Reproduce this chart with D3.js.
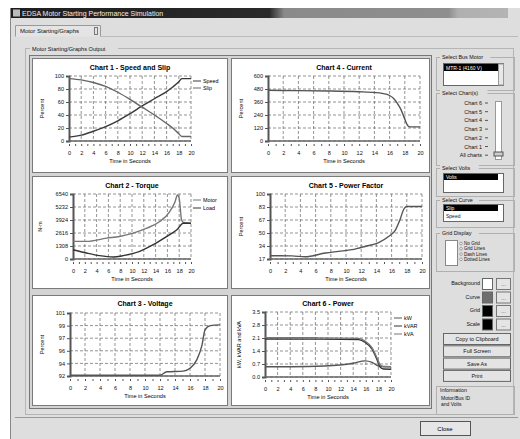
<!DOCTYPE html>
<html><head><meta charset="utf-8">
<script src="https://cdn.jsdelivr.net/npm/d3@7"></script>
<style>body{margin:0;background:#fff}svg{display:block;font-family:"Liberation Sans",Arial,sans-serif}</style>
</head><body><svg id="c" width="520" height="439"></svg>
<script>
// ---------- data ----------
const timeTicks = [0,2,4,6,8,10,12,14,16,18,20];

// Chart 1 - Speed and Slip (percent)
const c1Ticks = [0,20,40,60,80,100];
const c1Labels = ["0","20","40","60","80","100"];
const speedTime = [0,2,4,6,8,10,12,14,16,17,18,18.5,20];
const speedVal  = [6,9,15,22,31,42,54,65,76,83,91,96,96];
const slipTime  = [0,2,4,6,8,10,12,14,16,17,18,18.5,20];
const slipVal   = [96,94,90,84,75,64,52,40,27,20,11,7,7];

// Chart 4 - Current (percent)
const c4Ticks = [0,120,240,360,480,600];
const c4Labels = ["0","120","240","360","480","600"];
const currentTime = [0,4,8,12,14,15,16,16.5,17,17.5,18,18.4,18.7,20];
const currentVal  = [468,465,462,455,448,440,420,395,350,290,200,140,130,130];

// Chart 2 - Torque (N-m)
const c2Ticks = [0,1308,2616,3924,5232,6540];
const c2Labels = ["0","1308","2616","3924","5232","6540"];
const motorTime = [0,2.3,5.7,7.9,10.2,12.5,14.7,16.4,17.3,17.7,18,18.4,18.7,20];
const motorVal  = [1770,1770,2100,2270,2600,3100,3770,4770,5770,6440,6100,3940,3670,3600];
const loadTime  = [0,2.3,4.5,6.8,8.5,11.3,13.6,15.9,17.6,18.7,20];
const loadVal   = [934,600,334,200,334,767,1435,2270,2936,3600,3600];

// Chart 5 - Power Factor (percent)
const c5Ticks = [17,33.6,50.2,66.8,83.4,100];
const c5Labels = ["17","34","50","67","83","100"];
const pfTime = [0,2.9,4.6,7.3,9,10.8,12.5,14.3,15.6,16.5,17.1,17.6,18,20];
const pfVal  = [21.2,21,19.8,24.6,26.7,28.9,33,38,45.7,54,67,80.5,84,84];

// Chart 3 - Voltage (percent)
const c3Ticks = [92,93.8,95.6,97.4,99.2,101];
const c3Labels = ["92","94","96","97","99","101"];
const voltTime = [0,6,12,12.9,15.1,16,16.9,17.6,18,18.7,20];
const voltVal  = [92.1,92.1,92.1,92.6,92.7,93.1,94.3,96.4,98.6,99.2,99.3];

// Chart 6 - Power
const c6Ticks = [0,0.7,1.4,2.1,2.8,3.5];
const c6Labels = ["0.0","0.7","1.4","2.1","2.8","3.5"];
const kwTime   = [0,4.2,9.5,14,15.9,17,18,20];
const kwVal    = [0.55,0.55,0.59,0.74,0.87,0.79,0.59,0.55];
const kvarTime = [0,8,14.9,15.9,17,17.8,18.3,18.8,20];
const kvarVal  = [2.05,2.04,2.01,1.86,1.5,0.92,0.52,0.43,0.42];
const kvaTime  = [0,8,14.9,15.9,17,17.8,18.3,18.8,20];
const kvaVal   = [2.12,2.11,2.08,1.93,1.57,1.01,0.64,0.55,0.55];

const chartChecks = ["Chart 6","Chart 5","Chart 4","Chart 3","Chart 2","Chart 1","All charts"];
const gridOptions = ["No Grid","Grid Lines","Dash Lines","Dotted Lines"];
const colorRows = ["Background","Curve","Grid","Scale"];
const colorFills = ["#ffffff","#6e6e6e","#000000","#000000"];
const buttons = ["Copy to Clipboard","Full Screen","Save As","Print"];

// ---------- drawing ----------
const svg = d3.select("#c");
const zip = (a,b)=>a.map((v,i)=>[v,b[i]]);

// window
svg.append("rect").attr("x",10).attr("y",8).attr("width",510).attr("height",431).attr("fill","#dedede");
svg.append("line").attr("x1",10.5).attr("x2",10.5).attr("y1",8).attr("y2",439).attr("stroke","#888");
const grad = svg.append("defs").append("linearGradient").attr("id","tb");
grad.append("stop").attr("offset","0").attr("stop-color","#1e1e1e");
grad.append("stop").attr("offset","0.52").attr("stop-color","#2a2a2a");
grad.append("stop").attr("offset","0.55").attr("stop-color","#8a8a8a");
grad.append("stop").attr("offset","0.88").attr("stop-color","#8e8e8e");
grad.append("stop").attr("offset","0.9").attr("stop-color","#b0b0b0");
grad.append("stop").attr("offset","1").attr("stop-color","#b4b4b4");
svg.append("rect").attr("x",11).attr("y",8).attr("width",497).attr("height",10).attr("fill","url(#tb)");
svg.append("rect").attr("x",13).attr("y",9.5).attr("width",7).attr("height",7).attr("fill","#bbb");
svg.append("text").attr("x",22).attr("y",16).attr("font-size",7).attr("fill","#eee")
  .text("EDSA Motor Starting Performance Simulation");

// tab
svg.append("path").attr("d","M15.5,36.5 V25.5 H100.5 V36.5").attr("fill","#e4e4e4").attr("stroke","#999");
svg.append("text").attr("x",20).attr("y",33).attr("font-size",6).attr("fill","#111").text("Motor Starting/Graphs");
svg.append("rect").attr("x",94.5).attr("y",27.5).attr("width",3).attr("height",7).attr("fill","none").attr("stroke","#777");
svg.append("line").attr("x1",100).attr("x2",518).attr("y1",36.5).attr("y2",36.5).attr("stroke","#bbb");
// group box
svg.append("rect").attr("x",25.5).attr("y",48.5).attr("width",488).attr("height",366).attr("fill","none").attr("stroke","#b5b5b5");
svg.append("rect").attr("x",30).attr("y",45).attr("width",88).attr("height",7).attr("fill","#dedede");
svg.append("text").attr("x",32).attr("y",51).attr("font-size",5.6).attr("fill","#111").text("Motor Starting/Graphs Output");
// chart container
svg.append("rect").attr("x",29.5).attr("y",55.5).attr("width",402).attr("height",353).attr("fill","#d4d4d4").attr("stroke","#777");
// bottom line + close
svg.append("line").attr("x1",15).attr("x2",518).attr("y1",417.5).attr("y2",417.5).attr("stroke","#999");
svg.append("rect").attr("x",420.5).attr("y",421.5).attr("width",50).attr("height",14).attr("fill","#e6e6e6").attr("stroke","#555");
svg.append("text").attr("x",445).attr("y",431).attr("text-anchor","middle").attr("font-size",6).text("Close");

function drawChart(o){
  const g = svg.append("g");
  g.append("rect").attr("x",o.panel[0]+.5).attr("y",o.panel[1]+.5).attr("width",o.panel[2]).attr("height",o.panel[3])
    .attr("fill","#fff").attr("stroke","#7a7a7a");
  const x = d3.scaleLinear().domain([0,20]).range([o.L,o.R]);
  const y = d3.scaleLinear().domain([o.ticks[0],o.ticks[o.ticks.length-1]]).range([o.B,o.T]);
  g.append("text").attr("x",(o.L+o.R)/2).attr("y",o.titleY).attr("text-anchor","middle")
    .attr("font-size",7).attr("font-weight","bold").text(o.title);
  // grid
  g.selectAll(".vg").data(timeTicks.slice(1)).join("line")
    .attr("x1",d=>x(d)).attr("x2",d=>x(d)).attr("y1",o.T).attr("y2",o.B)
    .attr("stroke","#666").attr("stroke-width",0.7).attr("stroke-dasharray","3,2");
  g.selectAll(".hg").data(o.ticks).join("line")
    .attr("x1",o.L).attr("x2",o.R).attr("y1",d=>y(d)).attr("y2",d=>y(d))
    .attr("stroke","#666").attr("stroke-width",0.7).attr("stroke-dasharray","3,2");
  // y axis
  const ya = g.append("g").attr("transform",`translate(${o.L},0)`)
    .call(d3.axisLeft(y).tickValues(o.ticks).tickFormat((d,i)=>o.labels[i]).tickSize(3).tickPadding(2));
  ya.select(".domain").attr("stroke","#555").attr("stroke-width",2);
  ya.selectAll("text").attr("font-size",5.6).attr("fill","#111").attr("font-family","Liberation Sans, Arial");
  ya.selectAll(".tick line").attr("stroke","#555");
  // x axis
  const xa = g.append("g").attr("transform",`translate(0,${o.B+3})`)
    .call(d3.axisBottom(x).tickValues(d3.range(0,21)).tickFormat(d=>d%2?"":d).tickSize(2).tickPadding(5));
  xa.select(".domain").attr("stroke","none");
  xa.selectAll("text").attr("font-size",5.6).attr("fill","#111").attr("font-family","Liberation Sans, Arial");
  xa.selectAll(".tick line").attr("stroke","#555");
  g.append("line").attr("x1",o.L).attr("x2",o.R).attr("y1",o.B).attr("y2",o.B).attr("stroke","#666").attr("stroke-width",1.5);
  g.append("text").attr("x",(o.L+o.R)/2).attr("y",o.B+22).attr("text-anchor","middle").attr("font-size",5.6).text("Time in Seconds");
  g.append("text").attr("transform",`translate(${o.yTitleX},${(o.T+o.B)/2}) rotate(-90)`).attr("text-anchor","middle")
    .attr("font-size",5.6).text(o.yTitle);
  // series
  const line = d3.line().x(d=>x(d[0])).y(d=>y(d[1])).curve(d3.curveMonotoneX);
  o.series.forEach(s=>{
    g.append("path").datum(zip(s.t,s.v)).attr("d",line).attr("fill","none")
      .attr("stroke",s.c||"#444").attr("stroke-width",1.4);
  });
  // legend
  if(o.legend){
    o.series.forEach((s,i)=>{
      const ly = o.legend[1]+i*o.legend[2];
      g.append("line").attr("x1",o.legend[0]).attr("x2",o.legend[0]+8).attr("y1",ly).attr("y2",ly).attr("stroke",s.c||"#444").attr("stroke-width",1);
      g.append("text").attr("x",o.legend[0]+10).attr("y",ly+2).attr("font-size",5.4).text(s.name);
    });
  }
}

drawChart({panel:[32,58,195,114],L:69,R:191,T:76,B:141,titleY:70,title:"Chart 1 - Speed and Slip",
  ticks:c1Ticks,labels:c1Labels,yTitle:"Percent",yTitleX:44,legend:[193,81,7],
  series:[{name:"Speed",t:speedTime,v:speedVal,c:"#3a3a3a"},{name:"Slip",t:slipTime,v:slipVal,c:"#666"}]});
drawChart({panel:[231,58,198,114],L:268,R:420,T:76,B:141,titleY:70,title:"Chart 4 - Current",
  ticks:c4Ticks,labels:c4Labels,yTitle:"Percent",yTitleX:243,
  series:[{name:"Current",t:currentTime,v:currentVal,c:"#555"}]});
drawChart({panel:[32,176,195,112],L:73,R:191,T:194,B:259,titleY:188,title:"Chart 2 - Torque",
  ticks:c2Ticks,labels:c2Labels,yTitle:"N-m",yTitleX:42,legend:[193,200,8],
  series:[{name:"Motor",t:motorTime,v:motorVal,c:"#777"},{name:"Load",t:loadTime,v:loadVal,c:"#333"}]});
drawChart({panel:[231,176,198,112],L:270,R:422,T:194,B:259,titleY:188,title:"Chart 5 - Power Factor",
  ticks:c5Ticks,labels:c5Labels,yTitle:"Percent",yTitleX:243,
  series:[{name:"PF",t:pfTime,v:pfVal,c:"#555"}]});
drawChart({panel:[32,295,195,110],L:70,R:220,T:313,B:376,titleY:306,title:"Chart 3 - Voltage",
  ticks:c3Ticks,labels:c3Labels,yTitle:"Percent",yTitleX:44,
  series:[{name:"Voltage",t:voltTime,v:voltVal,c:"#555"}]});
drawChart({panel:[231,295,198,110],L:265,R:391,T:312,B:377,titleY:306,title:"Chart 6 - Power",
  ticks:c6Ticks,labels:c6Labels,yTitle:"kW, kVAR and kVA",yTitleX:241,legend:[394,318,8],
  series:[{name:"kW",t:kwTime,v:kwVal,c:"#555"},{name:"kVAR",t:kvarTime,v:kvarVal,c:"#333"},{name:"kVA",t:kvaTime,v:kvaVal,c:"#777"}]});

// ---------- right panel ----------
const rp = svg.append("g").attr("font-size",5.4).attr("fill","#111");
function frame(x,y,w,h,label){
  rp.append("rect").attr("x",x+.5).attr("y",y+.5).attr("width",w).attr("height",h).attr("fill","none").attr("stroke","#b0b0b0");
  if(label){
    rp.append("rect").attr("x",x+4).attr("y",y-3).attr("width",label.length*2.9+4).attr("height",6).attr("fill","#dedede");
    rp.append("text").attr("x",x+6).attr("y",y+2).text(label);
  }
}
frame(436,57,78,33,"Select Bus Motor");
rp.append("rect").attr("x",443.5).attr("y",63.5).attr("width",60).attr("height",22).attr("fill","#fff").attr("stroke","#666");
rp.append("rect").attr("x",444).attr("y",64).attr("width",54).attr("height",7).attr("fill","#000");
rp.append("text").attr("x",446).attr("y",69.5).attr("fill","#fff").attr("font-size",5).text("MTR-1 (4160 V)");
rp.append("rect").attr("x",498.5).attr("y",64).attr("width",5).attr("height",21).attr("fill","#e8e8e8").attr("stroke","#999");

frame(436,93,78,72,"Select Chart(s)");
chartChecks.forEach((c,i)=>{
  const yy = 105+i*8.7;
  rp.append("text").attr("x",482).attr("y",yy).attr("text-anchor","end").text(c);
  rp.append("line").attr("x1",485).attr("x2",488).attr("y1",yy-2).attr("y2",yy-2).attr("stroke","#555");
});
rp.append("rect").attr("x",495.5).attr("y",101.5).attr("width",6).attr("height",58).attr("fill","#fff").attr("stroke","#999");
rp.append("rect").attr("x",494).attr("y",152).attr("width",9).attr("height",4).attr("fill","#ccc").attr("stroke","#555");

frame(436,168,78,28,"Select Volts");
rp.append("rect").attr("x",443.5).attr("y",173.5).attr("width",60).attr("height",19).attr("fill","#fff").attr("stroke","#666");
rp.append("rect").attr("x",444).attr("y",174).attr("width",54).attr("height",6).attr("fill","#000");
rp.append("text").attr("x",446).attr("y",179).attr("fill","#fff").attr("font-size",5).text("Volts");

frame(436,200,78,27,"Select Curve");
rp.append("rect").attr("x",443.5).attr("y",204.5).attr("width",60).attr("height",17).attr("fill","#fff").attr("stroke","#666");
rp.append("rect").attr("x",444).attr("y",205).attr("width",54).attr("height",6).attr("fill","#000");
rp.append("text").attr("x",446).attr("y",210).attr("fill","#fff").attr("font-size",5).text("Slip");
rp.append("text").attr("x",446).attr("y",217.5).attr("font-size",5).text("Speed");

frame(436,233,78,38,"Grid Display");
rp.append("rect").attr("x",445.5).attr("y",240.5).attr("width",12).attr("height",25).attr("fill","#fff").attr("stroke","#888");
gridOptions.forEach((t,i)=>{
  const yy = 245+i*5.3;
  rp.append("circle").attr("cx",461).attr("cy",yy-1.5).attr("r",1.3).attr("fill","#fff").attr("stroke","#555").attr("stroke-width",0.5);
  rp.append("text").attr("x",464).attr("y",yy).attr("font-size",4.6).text(t);
});

colorRows.forEach((t,i)=>{
  const yy = 278+i*13.5;
  rp.append("text").attr("x",480).attr("y",yy+7).attr("text-anchor","end").text(t);
  rp.append("rect").attr("x",482.5).attr("y",yy+.5).attr("width",10).attr("height",11).attr("fill",colorFills[i]).attr("stroke","#666");
  rp.append("rect").attr("x",496.5).attr("y",yy+.5).attr("width",14).attr("height",11).attr("fill","#e4e4e4").attr("stroke","#777");
  rp.append("text").attr("x",503.5).attr("y",yy+8).attr("text-anchor","middle").text("...");
});
buttons.forEach((t,i)=>{
  const yy = 333+i*12.3;
  rp.append("rect").attr("x",443.5).attr("y",yy+.5).attr("width",67).attr("height",11).attr("fill","#e4e4e4").attr("stroke","#666");
  rp.append("text").attr("x",477).attr("y",yy+8).attr("text-anchor","middle").text(t);
});
frame(436,386,78,28,null);
rp.append("text").attr("x",440).attr("y",392).text("Information");
rp.append("text").attr("x",441).attr("y",400).attr("font-size",5).text("Motor/Bus ID");
rp.append("text").attr("x",441).attr("y",406).attr("font-size",5).text("and Volts");
</script></body></html>
